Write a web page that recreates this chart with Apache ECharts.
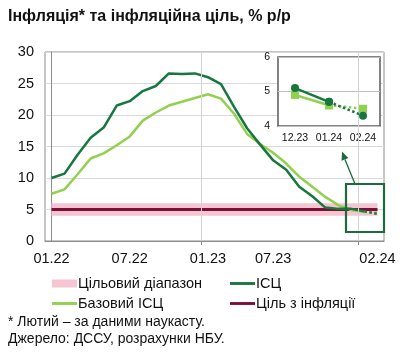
<!DOCTYPE html>
<html><head><meta charset="utf-8">
<script src="https://cdn.jsdelivr.net/npm/echarts@6/dist/echarts.min.js"></script>
<style>html,body{margin:0;padding:0;background:#fff}#c{width:407px;height:360px}</style>
</head><body><div id="c"></div>
<script>
const categories = ['01.22','02.22','03.22','04.22','05.22','06.22','07.22','08.22','09.22','10.22','11.22','12.22',
  '01.23','02.23','03.23','04.23','05.23','06.23','07.23','08.23','09.23','10.23','11.23','12.23','01.24','02.24'];
const cpi  = [10.0,10.7,13.7,16.4,18.0,21.5,22.2,23.8,24.6,26.6,26.5,26.6,26.0,24.9,21.3,17.9,15.3,12.8,11.3,8.6,7.1,5.3,5.1,5.1,4.7,4.3];
const core = [7.5,8.2,10.6,13.1,13.9,15.2,16.6,19.1,20.4,21.5,22.1,22.7,23.3,22.6,20.2,17.0,15.4,14.0,12.3,10.2,8.6,7.0,5.7,4.9,4.6,4.5];
const target = 5;
const targetRange = [4, 6];
const xTickLabels = ['01.22','07.22','01.23','07.23','02.24'];
const xLabelAt = [0, 6, 12, 17, 25];
const yTicks = [0, 30, 5];
const insetTicks = [4, 6, 1];
const insetCount = 3;

const FONT = "'Liberation Sans', Arial, sans-serif";
const C_CPI = '#17773f', C_CORE = '#92d050', C_BAND = '#f5c6d1', C_TGT = '#7a1038';
const LINE_ICON = 'path://M0,0H26V3H0Z';
const n = categories.length;
const pts = arr => arr.map((v, i) => [i, v]);
const yearBreaks = categories.map((c, i) => (i > 0 && c.startsWith('01.')) ? i - 0.5 : null).filter(v => v !== null);
const lastSeg = arr => arr.map((v, i) => [i, v]).slice(n - 2);
const firstSeg = arr => arr.map((v, i) => [i, v]).slice(0, n - 1);

const insCats = categories.slice(-insetCount);
const insCpi = cpi.slice(-insetCount), insCore = core.slice(-insetCount);
const solidPart = a => a.map((v, i) => i < insetCount - 1 ? v : '-');
const dotPart = a => a.map((v, i) => i >= insetCount - 2 ? v : '-');

const legendText = { fontSize: 14.5, color: '#111', fontFamily: FONT, padding: [0, 0, 0, -4] };

const chart = echarts.init(document.getElementById('c'));
chart.setOption({
  animation: false,
  textStyle: { fontFamily: FONT },
  title: { text: 'Інфляція* та інфляційна ціль, % р/р', left: 8, top: 9, padding: 0,
    textStyle: { fontFamily: FONT, fontSize: 16, fontWeight: 'bold', color: '#111' } },
  grid: [
    { left: 45, top: 52, right: 23, bottom: 119, show: true, borderColor: '#8c8c8c', borderWidth: 1 },
    { left: 278, top: 57, width: 102, height: 69, show: true, backgroundColor: '#fff', borderColor: '#595959', borderWidth: 1.5, z: 3 }
  ],
  xAxis: [
    { type: 'value', gridIndex: 0, min: -0.5, max: n - 0.5,
      axisLine: { show: true, lineStyle: { color: '#8c8c8c' } },
      splitLine: { show: false },
      axisTick: { show: true, customValues: yearBreaks, length: 4, lineStyle: { color: '#8c8c8c' } },
      axisLabel: { customValues: xLabelAt, formatter: v => xTickLabels[xLabelAt.indexOf(v)] || '',
        fontSize: 14.5, color: '#111', margin: 10, fontFamily: FONT } },
    { type: 'category', gridIndex: 1, data: insCats, boundaryGap: true, z: 4,
      axisLine: { show: false }, axisTick: { show: false },
      axisLabel: { interval: 0, fontSize: 10.5, color: '#111', margin: 7, fontFamily: FONT } }
  ],
  yAxis: [
    { type: 'value', gridIndex: 0, min: yTicks[0], max: yTicks[1], interval: yTicks[2],
      axisLine: { show: true, lineStyle: { color: '#8c8c8c' } }, axisTick: { show: false },
      splitLine: { lineStyle: { color: '#d9d9d9' } },
      axisLabel: { fontSize: 14.5, color: '#111', margin: 11, fontFamily: FONT } },
    { type: 'value', gridIndex: 1, min: insetTicks[0], max: insetTicks[1], interval: insetTicks[2], z: 4,
      axisLine: { show: false }, axisTick: { show: false },
      splitLine: { lineStyle: { color: '#bfbfbf' } },
      axisLabel: { fontSize: 10.5, color: '#111', margin: 8, fontFamily: FONT } }
  ],
  legend: [
    { left: 52, top: 276, padding: 0, orient: 'vertical', itemWidth: 25, itemHeight: 8, itemGap: 5,
      textStyle: legendText,
      data: [{ name: 'Цільовий діапазон', icon: 'rect' }, { name: 'Базовий ІСЦ', icon: LINE_ICON }] },
    { left: 230, top: 276, padding: 0, orient: 'vertical', itemWidth: 25, itemHeight: 8, itemGap: 5,
      textStyle: legendText,
      data: [{ name: 'ІСЦ', icon: LINE_ICON }, { name: 'Ціль з інфляції', icon: LINE_ICON }] }
  ],
  series: [
    { name: 'Цільовий діапазон', type: 'line', data: pts(categories.map(() => target)), symbol: 'none',
      itemStyle: { color: C_BAND }, lineStyle: { width: 0, color: C_BAND }, silent: true,
      markArea: { silent: true, itemStyle: { color: C_BAND }, data: [[{ xAxis: 0, yAxis: targetRange[0] }, { xAxis: n - 1, yAxis: targetRange[1] }]] },
      markLine: { silent: true, symbol: 'none', label: { show: false }, lineStyle: { color: '#d4d4d4', type: 'solid', width: 1 },
        data: yearBreaks.map(v => ({ xAxis: v })) } },
    { name: 'Ціль з інфляції', type: 'line', data: pts(categories.map(() => target)), symbol: 'none',
      itemStyle: { color: C_TGT }, lineStyle: { width: 3, color: C_TGT } },
    { name: 'Базовий ІСЦ', type: 'line', data: firstSeg(core), symbol: 'none',
      itemStyle: { color: C_CORE }, lineStyle: { width: 2.5, color: C_CORE } },
    { name: 'core-nowcast', type: 'line', data: lastSeg(core), symbol: 'none',
      lineStyle: { width: 2.5, color: C_CORE, type: 'dotted' } },
    { name: 'ІСЦ', type: 'line', data: firstSeg(cpi), symbol: 'none',
      itemStyle: { color: C_CPI }, lineStyle: { width: 2.5, color: C_CPI } },
    { name: 'cpi-nowcast', type: 'line', data: lastSeg(cpi), symbol: 'none',
      lineStyle: { width: 2.5, color: C_CPI, type: 'dotted' } },
    { name: 'core-inset', type: 'line', xAxisIndex: 1, yAxisIndex: 1, data: solidPart(insCore), z: 5,
      symbol: 'rect', symbolSize: 8, itemStyle: { color: C_CORE }, lineStyle: { width: 2.5, color: C_CORE } },
    { name: 'core-inset-d', type: 'line', xAxisIndex: 1, yAxisIndex: 1, data: dotPart(insCore), z: 5,
      symbol: 'rect', symbolSize: 8, itemStyle: { color: C_CORE }, lineStyle: { width: 2.5, color: C_CORE, type: 'dotted' } },
    { name: 'cpi-inset', type: 'line', xAxisIndex: 1, yAxisIndex: 1, data: solidPart(insCpi), z: 6,
      symbol: 'circle', symbolSize: 8, itemStyle: { color: C_CPI }, lineStyle: { width: 2.5, color: C_CPI } },
    { name: 'cpi-inset-d', type: 'line', xAxisIndex: 1, yAxisIndex: 1, data: dotPart(insCpi), z: 6,
      symbol: 'circle', symbolSize: 8, itemStyle: { color: C_CPI }, lineStyle: { width: 2.5, color: C_CPI, type: 'dotted' } }
  ],
  graphic: [
    { type: 'rect', shape: { x: 346, y: 184, width: 38, height: 48 }, z: 10,
      style: { fill: 'none', stroke: '#1b6b3d', lineWidth: 2.2 } },
    { type: 'line', shape: { x1: 355, y1: 184, x2: 345, y2: 159.5 }, z: 10,
      style: { stroke: '#1b6b3d', lineWidth: 1.3 } },
    { type: 'polygon', shape: { points: [[342, 151.5], [348.4, 158.1], [341.6, 160.8]] }, z: 10,
      style: { fill: '#1b6b3d' } },
    { type: 'text', left: 8, top: 315, z: 10,
      style: { text: '* Лютий – за даними наукасту.', font: '14px ' + FONT, fill: '#111' } },
    { type: 'text', left: 8, top: 332, z: 10,
      style: { text: 'Джерело: ДССУ, розрахунки НБУ.', font: '14px ' + FONT, fill: '#111' } }
  ]
});
</script></body></html>
